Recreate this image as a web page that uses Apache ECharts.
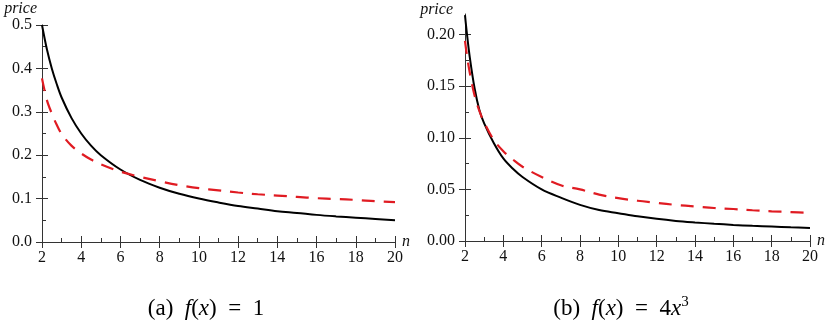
<!DOCTYPE html>
<html>
<head>
<meta charset="utf-8">
<script src="https://cdn.jsdelivr.net/npm/echarts@6/dist/echarts.min.js"></script>
<style>
html, body { margin: 0; padding: 0; background: #fff; }
#chart { width: 835px; height: 332px; }
</style>
</head>
<body>
<div id="chart"></div>
<script>
// (a) f(x) = 1
var leftN     = [2, 2.25, 2.5, 2.75, 3, 3.5, 4, 4.5, 5, 6, 7, 8, 9, 10, 11, 12, 13, 14, 15, 16, 17, 18, 19, 20];
var leftBlack = [0.5, 0.444, 0.4, 0.364, 0.333, 0.286, 0.25, 0.222, 0.2, 0.167, 0.143, 0.125, 0.111, 0.1, 0.091, 0.083, 0.077, 0.071, 0.067, 0.0625, 0.059, 0.056, 0.053, 0.05];
var leftRed   = [0.377, 0.327, 0.296, 0.27, 0.249, 0.222, 0.204, 0.19, 0.179, 0.162, 0.15, 0.14, 0.131, 0.124, 0.119, 0.114, 0.11, 0.107, 0.104, 0.101, 0.099, 0.097, 0.094, 0.092];

// (b) f(x) = 4x^3
var rightN     = [2, 2.1, 2.25, 2.5, 2.75, 3, 3.5, 4, 4.5, 5, 6, 7, 8, 9, 10, 11, 12, 13, 14, 15, 16, 17, 18, 19, 20];
var rightBlack = [0.219, 0.201, 0.178, 0.148, 0.127, 0.114, 0.095, 0.08, 0.07, 0.062, 0.05, 0.042, 0.035, 0.03, 0.027, 0.024, 0.0215, 0.0195, 0.018, 0.0167, 0.0156, 0.0147, 0.014, 0.0133, 0.0127];
var rightRed   = [0.194, 0.18, 0.163, 0.141, 0.126, 0.115, 0.098, 0.087, 0.079, 0.072, 0.062, 0.054, 0.05, 0.045, 0.0415, 0.039, 0.037, 0.035, 0.0335, 0.032, 0.031, 0.0298, 0.0288, 0.028, 0.0274];

var rightMajor = [0, 0.05, 0.1, 0.15, 0.2];
var rightMinor = [0.025, 0.075, 0.125, 0.175];

var serif = '"Liberation Serif", "Times New Roman", serif';
var axisColor = '#333';

function pairs(xs, ys) {
    return xs.map(function (x, i) { return [x, ys[i]]; });
}

function xAxes(g) {
    return [
        {
            type: 'value', gridIndex: g, position: 'bottom', min: 2, max: 20, interval: 2,
            axisLine: { lineStyle: { color: axisColor, width: 1 } },
            axisTick: { length: 6, lineStyle: { color: axisColor } },
            axisLabel: { margin: 8, fontFamily: serif, fontSize: 16, color: '#111' },
            splitLine: { show: false },
            name: 'n', nameLocation: 'end', nameGap: 7,
            nameTextStyle: { fontFamily: serif, fontStyle: 'italic', fontSize: 16, color: '#111',
                             verticalAlign: 'middle', padding: [0, 0, 10, 0] }
        },
        {
            type: 'value', gridIndex: g, position: 'bottom', min: 2, max: 20, interval: 2,
            axisLine: { show: false },
            axisTick: { inside: true, length: 6, lineStyle: { color: axisColor } },
            minorTick: { show: true, splitNumber: 2, length: 4, lineStyle: { color: axisColor } },
            axisLabel: { show: false },
            splitLine: { show: false }
        }
    ];
}

function yName(gap, pad) {
    return {
        name: 'price', nameLocation: 'end', nameGap: gap,
        nameTextStyle: { fontFamily: serif, fontStyle: 'italic', fontSize: 16, color: '#111',
                         align: 'right', verticalAlign: 'middle', padding: [0, pad, 0, 0] }
    };
}

var yLeftMain = Object.assign({
    type: 'value', gridIndex: 0, position: 'left', min: 0, max: 0.5, interval: 0.1,
    axisLine: { show: true, lineStyle: { color: axisColor } },
    axisTick: { show: true, length: 6, lineStyle: { color: axisColor } },
    axisLabel: { margin: 10, fontFamily: serif, fontSize: 16, color: '#111',
                 formatter: function (v) { return v.toFixed(1); } },
    splitLine: { show: false }
}, yName(15, 5));

var yLeftInner = {
    type: 'value', gridIndex: 0, position: 'left', min: 0, max: 0.5, interval: 0.1,
    axisLine: { show: false },
    axisTick: { show: true, inside: true, length: 6, lineStyle: { color: axisColor } },
    minorTick: { show: true, splitNumber: 2, length: 4, lineStyle: { color: axisColor } },
    axisLabel: { show: false },
    splitLine: { show: false }
};

var yRightMain = Object.assign({
    type: 'value', gridIndex: 1, position: 'left', min: 0, max: 0.22,
    axisLine: { show: true, lineStyle: { color: axisColor } },
    axisTick: { show: true, length: 6, customValues: rightMajor, lineStyle: { color: axisColor } },
    axisLabel: { margin: 10, fontFamily: serif, fontSize: 16, color: '#111', customValues: rightMajor,
                 formatter: function (v) { return v.toFixed(2); } },
    splitLine: { show: false }
}, yName(4, 12));

var yRightInner = {
    type: 'value', gridIndex: 1, position: 'left', min: 0, max: 0.22,
    axisLine: { show: false },
    axisTick: { show: true, inside: true, length: 6, customValues: rightMajor, lineStyle: { color: axisColor } },
    axisLabel: { show: false },
    splitLine: { show: false }
};

var yRightMinor = {
    type: 'value', gridIndex: 1, position: 'left', min: 0, max: 0.22,
    axisLine: { show: false },
    axisTick: { show: true, inside: true, length: 4, customValues: rightMinor, lineStyle: { color: axisColor } },
    axisLabel: { show: false },
    splitLine: { show: false }
};

function line(name, xi, yi, data, red) {
    return {
        name: name, type: 'line', xAxisIndex: xi, yAxisIndex: yi,
        data: data, showSymbol: false, smooth: 0.35,
        lineStyle: red ? { color: '#e01b22', width: 2.2, type: [13, 9] }
                       : { color: '#000', width: 2 },
        z: red ? 3 : 2,
        animation: false
    };
}

var capRich = {
    n: { fontFamily: serif, fontSize: 23, color: '#111' },
    i: { fontFamily: serif, fontSize: 23, fontStyle: 'italic', color: '#111' },
    s: { fontFamily: serif, fontSize: 15, color: '#111', verticalAlign: 'top', padding: [0, 0, 13, 0] }
};

var chart = echarts.init(document.getElementById('chart'));
var option = {
    backgroundColor: '#fff',
    animation: false,
    textStyle: { fontFamily: serif },
    grid: [
        { left: 42, right: 440, top: 25, bottom: 90 },
        { left: 465, right: 25, top: 14, bottom: 91 }
    ],
    xAxis: xAxes(0).concat(xAxes(1)),
    yAxis: [yLeftMain, yLeftInner, yRightMain, yRightInner, yRightMinor],
    series: [
        line('left exact', 0, 0, pairs(leftN, leftBlack), false),
        line('left approx', 0, 0, pairs(leftN, leftRed), true),
        line('right exact', 2, 2, pairs(rightN, rightBlack), false),
        line('right approx', 2, 2, pairs(rightN, rightRed), true)
    ],
    graphic: [
        { type: 'text', x: 206, y: 309,
          style: { text: '{n|(a)  }{i|f}{n|(}{i|x}{n|)  =  1}', rich: capRich, align: 'center', verticalAlign: 'middle' } },
        { type: 'text', x: 621, y: 309,
          style: { text: '{n|(b)  }{i|f}{n|(}{i|x}{n|)  =  4}{i|x}{s|3}', rich: capRich, align: 'center', verticalAlign: 'middle' } }
    ]
};
chart.setOption(option);
</script>
</body>
</html>
